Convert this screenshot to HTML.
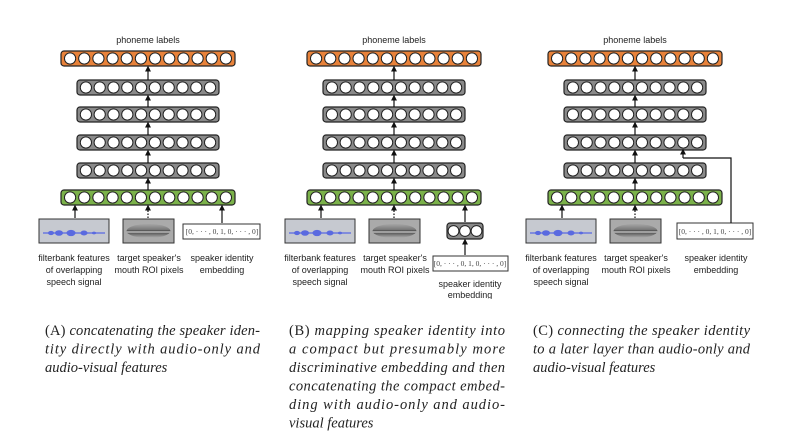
<!DOCTYPE html>
<html><head><meta charset="utf-8"><style>
html,body{margin:0;padding:0;background:#fff;}
svg{display:block;}
.lab{font-family:"Liberation Sans",sans-serif;font-size:9px;fill:#222;text-anchor:middle;}
.cap{font-family:"Liberation Serif",serif;font-size:14.5px;fill:#222;font-style:italic;}
.up{font-style:normal;}
.emb{font-family:"Liberation Serif",serif;font-size:7.5px;fill:#444;text-anchor:middle;}
</style></head><body>
<svg id="s" width="805" height="436" viewBox="0 0 805 436" xmlns="http://www.w3.org/2000/svg">
<defs>
<linearGradient id="mouth" x1="0" y1="0" x2="0" y2="1">
<stop offset="0" stop-color="#a5a5a5"/><stop offset="0.4" stop-color="#7a7a7a"/><stop offset="0.5" stop-color="#4a4a4a"/><stop offset="0.56" stop-color="#d8d8d8"/><stop offset="0.66" stop-color="#606060"/><stop offset="1" stop-color="#b0b0b0"/></linearGradient>
<marker id="ar" markerWidth="6" markerHeight="6" refX="3" refY="3" orient="auto"><path d="M0,0.5 L5,3 L0,5.5z" fill="#111"/></marker>
</defs>
<g id="g"></g>
<text class="lab" x="148" y="43">phoneme labels</text>
<text class="lab" x="74" y="261">filterbank features</text>
<text class="lab" x="74" y="273">of overlapping</text>
<text class="lab" x="74" y="285">speech signal</text>
<text class="lab" x="149" y="261">target speaker's</text>
<text class="lab" x="149" y="273">mouth ROI pixels</text>
<text class="lab" x="222" y="261">speaker identity</text>
<text class="lab" x="222" y="273">embedding</text>
<text class="emb" x="222" y="234">[0, · · · , 0, 1, 0, · · · , 0]</text>
<text class="lab" x="394" y="43">phoneme labels</text>
<text class="lab" x="320" y="261">filterbank features</text>
<text class="lab" x="320" y="273">of overlapping</text>
<text class="lab" x="320" y="285">speech signal</text>
<text class="lab" x="395" y="261">target speaker's</text>
<text class="lab" x="395" y="273">mouth ROI pixels</text>
<text class="emb" x="470" y="266">[0, · · · , 0, 1, 0, · · · , 0]</text>
<text class="lab" x="470" y="287">speaker identity</text>
<text class="lab" x="470" y="298">embedding</text>
<text class="lab" x="635" y="43">phoneme labels</text>
<text class="lab" x="561" y="261">filterbank features</text>
<text class="lab" x="561" y="273">of overlapping</text>
<text class="lab" x="561" y="285">speech signal</text>
<text class="lab" x="636" y="261">target speaker's</text>
<text class="lab" x="636" y="273">mouth ROI pixels</text>
<text class="lab" x="716" y="261">speaker identity</text>
<text class="lab" x="716" y="273">embedding</text>
<text class="emb" x="715" y="234">[0, · · · , 0, 1, 0, · · · , 0]</text>
<rect x="420" y="299" width="100" height="10" fill="#fff"/>
<text class="cap" x="45" y="335" textLength="215" lengthAdjust="spacing"><tspan class="up">(A) </tspan>concatenating the speaker iden-</text>
<text class="cap" x="45" y="353.5" textLength="215" lengthAdjust="spacing">tity directly with audio-only and</text>
<text class="cap" x="45" y="372">audio-visual features</text>
<text class="cap" x="289" y="335" textLength="216" lengthAdjust="spacing"><tspan class="up">(B) </tspan>mapping speaker identity into</text>
<text class="cap" x="289" y="353.5" textLength="216" lengthAdjust="spacing">a compact but presumably more</text>
<text class="cap" x="289" y="372" textLength="216" lengthAdjust="spacing">discriminative embedding and then</text>
<text class="cap" x="289" y="390.5" textLength="216" lengthAdjust="spacing">concatenating the compact embed-</text>
<text class="cap" x="289" y="409" textLength="216" lengthAdjust="spacing">ding with audio-only and audio-</text>
<text class="cap" x="289" y="427.5">visual features</text>
<text class="cap" x="533" y="335" textLength="217" lengthAdjust="spacing"><tspan class="up">(C) </tspan>connecting the speaker identity</text>
<text class="cap" x="533" y="353.5" textLength="217" lengthAdjust="spacing">to a later layer than audio-only and</text>
<text class="cap" x="533" y="372">audio-visual features</text>
</svg>
<script>
const NS="http://www.w3.org/2000/svg",g=document.getElementById("g");
function el(t,a){const e=document.createElementNS(NS,t);for(const k in a)e.setAttribute(k,a[k]);g.appendChild(e);return e;}
function bar(x1,x2,y,n,fill){el("rect",{x:x1,y:y,width:x2-x1,height:15,rx:3,fill:fill,stroke:"#222","stroke-width":1.2});
 const step=(x2-x1-4)/n;for(let i=0;i<n;i++)el("circle",{cx:x1+2+step*(i+0.5),cy:y+7.5,r:5.6,fill:"#fff",stroke:"#222","stroke-width":1});}
function arr(x,y1,y2,dash){el("line",{x1:x,y1:y1,x2:x,y2:y2+2,stroke:"#111","stroke-width":1.2,"marker-end":"url(#ar)","stroke-dasharray":dash?"1.5,1.5":"none"});}
function spec(x,y){el("rect",{x:x,y:y,width:70,height:24,fill:"#c6c9d0",stroke:"#333","stroke-width":1});
 el("line",{x1:x+4,y1:y+14,x2:x+66,y2:y+14,stroke:"#6a78e0","stroke-width":1.5});
 [[12,3],[20,4],[32,4.5],[45,3.5],[55,2]].forEach(p=>el("ellipse",{cx:x+p[0],cy:y+14,rx:p[1],ry:p[1]*0.7,fill:"#5a6ae0"}));}
function mouth(x,y){el("rect",{x:x,y:y,width:51,height:24,fill:"#aaa",stroke:"#333","stroke-width":1});
 el("ellipse",{cx:x+25.5,cy:y+12,rx:22,ry:7,fill:"url(#mouth)"});}
function panel(o,mode){
 bar(61+o,235+o,51,12,"#e8823a");
 const ys=[80,107,135,163];ys.forEach(y=>bar(77+o,219+o,y,10,"#8a8a8a"));
 bar(61+o,235+o,190,12,"#7bb24a");
 [[80,66],[107,95],[135,122],[163,150],[190,178]].forEach(p=>arr(148+o,p[0],p[1]));
 spec(39+o,219);mouth(123+o,219);
 arr(75+o,218,205);arr(148+o,218,205,true);
 if(mode==0){el("rect",{x:183,y:224,width:77,height:15,fill:"#fff",stroke:"#333","stroke-width":1});arr(222,223,205);}
 if(mode==1){el("rect",{x:433,y:256,width:75,height:15,fill:"#fff",stroke:"#333","stroke-width":1});
  el("rect",{x:447,y:223,width:36,height:16,rx:3,fill:"#8a8a8a",stroke:"#222","stroke-width":1.2});
  [453.5,465,476.5].forEach(c=>el("circle",{cx:c,cy:231,r:5.4,fill:"#fff",stroke:"#222"}));
  arr(465,255,239);arr(465,222,205);}
 if(mode==2){el("rect",{x:677,y:223,width:76,height:16,fill:"#fff",stroke:"#333","stroke-width":1});
  el("polyline",{points:"731,223 731,158 683,158",fill:"none",stroke:"#111","stroke-width":1.2});arr(683,158,149);}
}
panel(0,0);panel(246,1);panel(487,2);
</script>
</body></html>
